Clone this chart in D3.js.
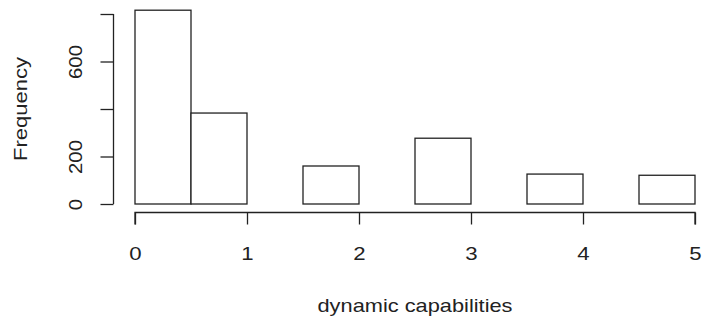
<!DOCTYPE html>
<html>
<head>
<meta charset="utf-8">
<script src="https://cdn.jsdelivr.net/npm/d3@7"></script>
<style>
  html, body { margin: 0; padding: 0; background: #fff; }
  svg { display: block; }
  text { font-family: "Liberation Sans", Arial, Helvetica, sans-serif; fill: #222; }
</style>
</head>
<body>
<svg id="chart" width="703" height="324"></svg>
<script>
// Histogram of dynamic capabilities, bins of width 0.5
const binEdges = [0, 0.5, 1, 1.5, 2, 2.5, 3, 3.5, 4, 4.5, 5];
const counts = [816, 383, 0, 160, 0, 277, 0, 126, 0, 121];
const xTicks = [0, 1, 2, 3, 4, 5];
const yTicks = [0, 200, 400, 600, 800];
const yTickLabels = ["0", "200", "", "600", ""];
const xLabel = "dynamic capabilities";
const yLabel = "Frequency";

const svg = d3.select("#chart");
const ink = "#222";

const x = d3.scaleLinear().domain([0, 5]).range([135, 695]);
const y = d3.scaleLinear().domain([0, 800]).range([204, 14]);

const bins = counts.map((c, i) => ({ x0: binEdges[i], x1: binEdges[i + 1], count: c }));

// bars
svg.append("g")
  .selectAll("rect")
  .data(bins)
  .join("rect")
  .attr("x", d => x(d.x0))
  .attr("y", d => y(d.count))
  .attr("width", d => x(d.x1) - x(d.x0))
  .attr("height", d => y(0) - y(d.count))
  .attr("fill", "#fff")
  .attr("stroke", ink)
  .attr("stroke-width", 1.3);

// x axis, offset below the bars
const xAxis = d3.axisBottom(x).tickValues(xTicks).tickFormat(d3.format("d")).tickSize(12).tickPadding(20);
const gx = svg.append("g").attr("transform", "translate(0,212.5)").call(xAxis);
gx.select(".domain").attr("stroke", ink).attr("stroke-width", 1.3)
  .attr("d", `M${x(0)},12V0H${x(5)}V12`);
gx.selectAll(".tick line").attr("stroke", ink).attr("stroke-width", 1.3);
gx.selectAll(".tick text")
  .attr("font-size", 18.5).attr("fill", ink)
  .attr("dy", null).attr("y", 0)
  .attr("transform", "translate(0,47.5) scale(1.2,1)");

// y axis, offset left of the bars
const yAxis = d3.axisLeft(y).tickValues(yTicks).tickFormat((d, i) => yTickLabels[i]).tickSize(13).tickPadding(0);
const gy = svg.append("g").attr("transform", "translate(113.5,0)").call(yAxis);
gy.select(".domain").attr("stroke", ink).attr("stroke-width", 1.3)
  .attr("d", `M0,${y(0)}V${y(800)}`);
gy.selectAll(".tick line").attr("stroke", ink).attr("stroke-width", 1.3);
gy.selectAll(".tick text")
  .attr("font-size", 19).attr("fill", ink)
  .attr("x", null).attr("dy", null)
  .attr("text-anchor", "middle")
  .attr("transform", "translate(-32,0) rotate(-90) scale(1.07,1)");

// axis titles
svg.append("text")
  .attr("x", 415).attr("y", 312)
  .attr("text-anchor", "middle")
  .attr("font-size", 19)
  .attr("textLength", 195).attr("lengthAdjust", "spacingAndGlyphs")
  .text(xLabel);

svg.append("text")
  .attr("transform", "translate(26.5,109) rotate(-90)")
  .attr("text-anchor", "middle")
  .attr("font-size", 19)
  .attr("textLength", 104).attr("lengthAdjust", "spacingAndGlyphs")
  .text(yLabel);
</script>
</body>
</html>
